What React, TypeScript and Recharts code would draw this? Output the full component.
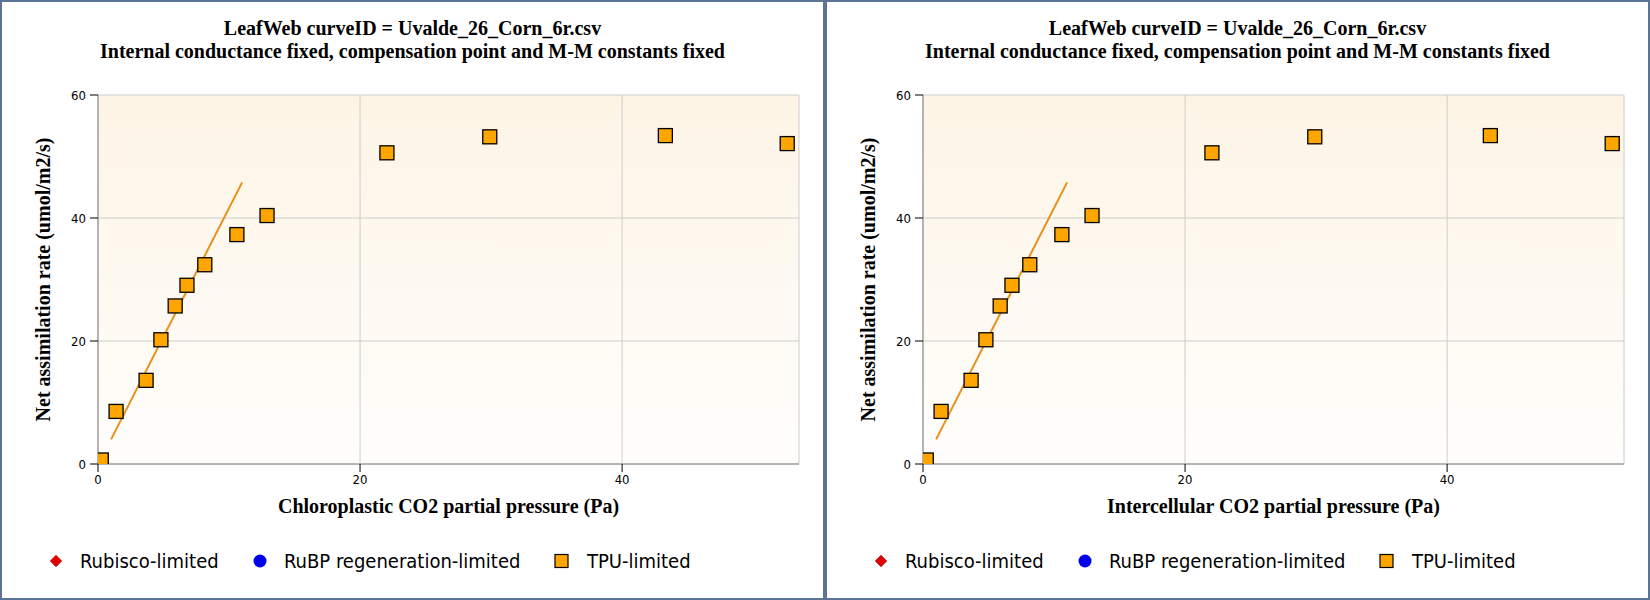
import React from "react";
import { ScatterChart, Scatter, XAxis, YAxis, CartesianGrid } from "recharts";

// measured points (same values in both panels)
const pressure = [0.25, 1.38, 3.67, 4.8, 5.89, 6.79, 8.15, 10.6, 12.9, 22.05, 29.9, 43.3, 52.6];
const assimilation = [0.65, 8.55, 13.6, 20.2, 25.7, 29.06, 32.4, 37.3, 40.4, 50.6, 53.2, 53.4, 52.1];

// fitted limitation line
const fitPressure = [1.0, 11.0];
const fitAssimilation = [4.0, 45.8];

const rubiscoPoints: { x: number; y: number }[] = [];
const rubpPoints: { x: number; y: number }[] = [];

const xTicks = [0, 20, 40];
const yTicks = [0, 20, 40, 60];
const xDomain = [0, 53.5];
const yDomain = [0, 60];

const titleLines = [
  "LeafWeb curveID = Uvalde_26_Corn_6r.csv",
  "Internal conductance fixed, compensation point and M-M constants fixed",
];
const yLabel = "Net assimilation rate (umol/m2/s)";
const xLabels = [
  "Chloroplastic CO2 partial pressure (Pa)",
  "Intercellular CO2 partial pressure (Pa)",
];
const legendNames = ["Rubisco-limited", "RuBP regeneration-limited", "TPU-limited"];

const tpuData = pressure.map((x, i) => ({ x, y: assimilation[i] }));
const fitData = fitPressure.map((x, i) => ({ x, y: fitAssimilation[i] }));

const SERIF = "'Liberation Serif', 'Times New Roman', serif";
const SANS = "'DejaVu Sans Condensed', 'DejaVu Sans', sans-serif";
const AXIS_GREY = "#a3a3a3";

const Square = (props: any) => {
  const { cx, cy } = props;
  if (cx == null || cy == null) return <g />;
  return (
    <rect x={cx - 7} y={cy - 7} width={14} height={14} fill="#ffa500" stroke="#000" strokeWidth={1.3} />
  );
};

const NoDot = () => <g />;

const XLabel = ({ viewBox, text }: any) => {
  const { x, y, width } = viewBox;
  return (
    <text x={x + width / 2} y={y + 49} textAnchor="middle" fontFamily={SERIF} fontWeight="bold" fontSize={20} fill="#000">
      {text}
    </text>
  );
};

const YLabel = ({ viewBox }: any) => {
  const { y, height } = viewBox;
  const bx = 48;
  const cy = y + height / 2;
  return (
    <text
      x={bx}
      y={cy}
      transform={`rotate(-90, ${bx}, ${cy})`}
      textAnchor="middle"
      fontFamily={SERIF}
      fontWeight="bold"
      fontSize={20}
      fill="#000"
    >
      {yLabel}
    </text>
  );
};

const Legend = () => {
  const cy = 19;
  return (
    <svg width={821} height={40} style={{ position: "absolute", left: 0, top: 540 }}>
      <polygon points={`54,${cy - 6} 60,${cy} 54,${cy + 6} 48,${cy}`} fill="#e00000" stroke="#a04040" strokeWidth={0.5} />
      <text x={78} y={cy + 7} fontFamily={SANS} fontSize={20} fill="#000">{legendNames[0]}</text>
      <circle cx={258} cy={cy} r={6.5} fill="#0000f0" />
      <text x={282} y={cy + 7} fontFamily={SANS} fontSize={20} fill="#000">{legendNames[1]}</text>
      <rect x={553} y={cy - 6.5} width={13} height={13} fill="#ffa500" stroke="#000" strokeWidth={1.2} />
      <text x={585} y={cy + 7} fontFamily={SANS} fontSize={20} fill="#000">{legendNames[2]}</text>
    </svg>
  );
};

const Panel = ({ xLabel, id }: { xLabel: string; id: string }) => {
  const tick = { fontFamily: SANS, fontSize: 13, fill: "#000" };
  return (
    <div
      style={{
        position: "relative",
        width: 825,
        height: 600,
        boxSizing: "border-box",
        border: "2px solid #5b7394",
        background: "#fff",
      }}
    >
      <div
        style={{
          position: "absolute",
          top: 15,
          left: 0,
          width: 821,
          textAlign: "center",
          fontFamily: SERIF,
          fontWeight: "bold",
          fontSize: 20,
          lineHeight: "23px",
          color: "#000",
        }}
      >
        {titleLines.map((t) => (
          <div key={t}>{t}</div>
        ))}
      </div>
      <div style={{ position: "absolute", left: 0, top: 0 }}>
        <ScatterChart width={821} height={596} margin={{ top: 93, right: 24, bottom: 74, left: 36 }}>
          <defs>
            <linearGradient id={`bg-${id}`} x1="0" y1="0" x2="0" y2="1">
              <stop offset="0%" stopColor="#fdf4e5" />
              <stop offset="100%" stopColor="#fffefc" />
            </linearGradient>
          </defs>
          <CartesianGrid stroke="#cdcdcd" fill={`url(#bg-${id})`} fillOpacity={1} />
          <XAxis
            type="number"
            dataKey="x"
            domain={xDomain}
            ticks={xTicks}
            allowDataOverflow
            height={60}
            axisLine={{ stroke: AXIS_GREY, strokeWidth: 1.5 }}
            tickLine={{ stroke: "#000" }}
            tickSize={8}
            tickMargin={3}
            tick={tick}
            label={(p: any) => <XLabel {...p} text={xLabel} />}
          />
          <YAxis
            type="number"
            dataKey="y"
            domain={yDomain}
            ticks={yTicks}
            allowDataOverflow
            width={60}
            axisLine={{ stroke: AXIS_GREY, strokeWidth: 1.5 }}
            tickLine={{ stroke: "#000" }}
            tickSize={8}
            tickMargin={4}
            tick={tick}
            label={(p: any) => <YLabel {...p} />}
          />
          <XAxis
            xAxisId="top"
            orientation="top"
            type="number"
            domain={xDomain}
            height={0}
            tick={false}
            tickLine={false}
            axisLine={{ stroke: AXIS_GREY, strokeWidth: 1.5 }}
          />
          <YAxis
            yAxisId="right"
            orientation="right"
            type="number"
            domain={yDomain}
            width={0}
            tick={false}
            tickLine={false}
            axisLine={{ stroke: AXIS_GREY, strokeWidth: 1.5 }}
          />
          <Scatter data={rubiscoPoints} fill="#e00000" isAnimationActive={false} />
          <Scatter data={rubpPoints} fill="#0000f0" isAnimationActive={false} />
          <Scatter
            data={fitData}
            line={{ stroke: "#e98f1c", strokeWidth: 2 }}
            shape={NoDot}
            isAnimationActive={false}
          />
          <Scatter data={tpuData} shape={Square} isAnimationActive={false} />
        </ScatterChart>
      </div>
      <Legend />
    </div>
  );
};

export default function App() {
  return (
    <div style={{ display: "flex", width: 1650, height: 600 }}>
      <style>{`body{margin:0}`}</style>
      <Panel xLabel={xLabels[0]} id="cc" />
      <Panel xLabel={xLabels[1]} id="ci" />
    </div>
  );
}
